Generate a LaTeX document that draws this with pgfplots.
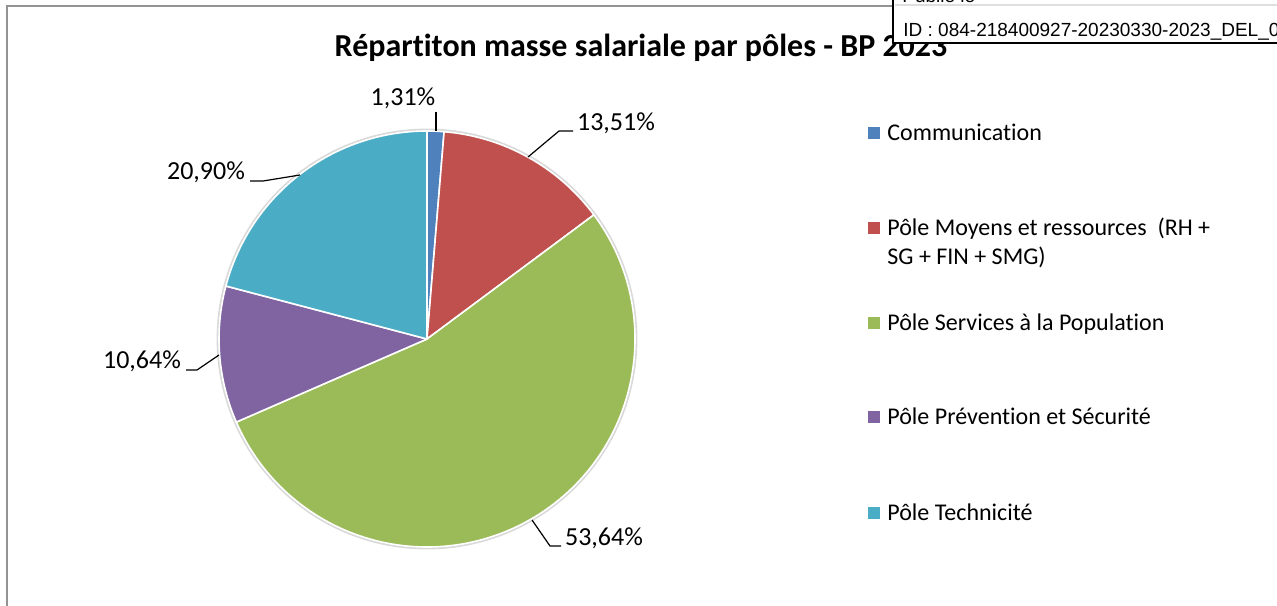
\documentclass[border=0pt]{standalone}
\usepackage{pgfplots}
\pgfplotsset{compat=1.18}
\usepackage{fontspec}
\setmainfont{Carlito}[Ligatures=NoCommon]
\newfontfamily\arial{Liberation Sans}

\definecolor{cA}{HTML}{4F81BD}
\definecolor{cB}{HTML}{C0504D}
\definecolor{cC}{HTML}{9BBB59}
\definecolor{cD}{HTML}{8064A2}
\definecolor{cE}{HTML}{4BACC6}

% share (%) / colour, clockwise from 12 o'clock
\def\piedata{1.31/cA, 13.51/cB, 53.64/cC, 10.64/cD, 20.90/cE}

\begin{document}
\begin{tikzpicture}
% build the sectors once, angles accumulated from the shares
\gdef\slices{}
\xdef\acur{90}
\foreach \p/\col in \piedata {
  \pgfmathsetmacro\anext{\acur - 3.6*\p}
  \xdef\slices{\unexpanded\expandafter{\slices}%
    \noexpand\fill[\col, draw=white, line width=0.8pt, line join=round]
      (axis cs:427,-339) -- ++(\acur:104pt)
      arc[start angle=\acur, end angle=\anext, radius=104pt] -- cycle;}
  \xdef\acur{\anext}
}
\begin{axis}[
    hide axis, scale only axis,
    x=0.5pt, y=0.5pt,
    xmin=0, xmax=1277, ymin=-605, ymax=0,
    clip=false, anchor=north west, at={(0,0)},
]
% chart frame
\draw[gray!85, line width=1.2pt] (axis cs:7,-620) -- (axis cs:7,-6) -- (axis cs:1290,-6);

% title
\node[anchor=base, font=\fontsize{16}{19}\selectfont\bfseries] at (axis cs:641,-56)
  {Répartiton masse salariale par pôles - BP 2023};

% pie
\fill[gray!30] (axis cs:427,-339) circle[radius=105.2pt];
\slices

% data labels with leader lines
\begin{scope}[font=\fontsize{13}{15}\selectfont]
\node[anchor=base] at (axis cs:403,-105) {1,31\%};
\draw[line width=0.6pt] (axis cs:436,-112) -- (axis cs:436,-131);
\node[anchor=base] at (axis cs:616,-130) {13,51\%};
\draw[line width=0.6pt] (axis cs:573,-131) -- (axis cs:559,-131) -- (axis cs:528,-157);
\node[anchor=base] at (axis cs:206,-179) {20,90\%};
\draw[line width=0.6pt] (axis cs:250,-181) -- (axis cs:263,-181) -- (axis cs:300,-175);
\node[anchor=base] at (axis cs:142,-368) {10,64\%};
\draw[line width=0.6pt] (axis cs:186,-370) -- (axis cs:197,-370) -- (axis cs:219,-355);
\node[anchor=base] at (axis cs:604,-545) {53,64\%};
\draw[line width=0.6pt] (axis cs:532,-520) -- (axis cs:550,-546) -- (axis cs:561,-546);
\end{scope}

% legend
\begin{scope}[font=\fontsize{12}{14.5}\selectfont, inner sep=0pt]
\fill[cA] (axis cs:868,-127) rectangle (axis cs:880,-139);
\node[anchor=base west] at (axis cs:887,-140) {Communication};
\fill[cB] (axis cs:868,-222) rectangle (axis cs:880,-234);
\node[anchor=base west] at (axis cs:887,-235) {Pôle Moyens et ressources\ \ (RH +};
\node[anchor=base west] at (axis cs:887,-264) {SG + FIN + SMG)};
\fill[cC] (axis cs:868,-317) rectangle (axis cs:880,-329);
\node[anchor=base west] at (axis cs:887,-330) {Pôle Services à la Population};
\fill[cD] (axis cs:868,-411) rectangle (axis cs:880,-423);
\node[anchor=base west] at (axis cs:887,-424) {Pôle Prévention et Sécurité};
\fill[cE] (axis cs:868,-507) rectangle (axis cs:880,-519);
\node[anchor=base west] at (axis cs:887,-520) {Pôle Technicité};
\end{scope}

% publication stamp over the top right corner
\filldraw[fill=white, draw=black, line width=1.4pt] (axis cs:893,-43) rectangle (axis cs:1300,10);
\draw[gray!25, line width=0.6pt] (axis cs:895,-5) -- (axis cs:1300,-5);
\node[anchor=base west, font=\arial\fontsize{9.5}{11}\selectfont, inner sep=0pt] at (axis cs:902,-2) {Publié le};
\node[anchor=base west, font=\arial\fontsize{9.5}{11}\selectfont, inner sep=0pt] at (axis cs:903,-36)
  {ID : 084-218400927-20230330-2023\_DEL\_03};
\end{axis}
\pgfresetboundingbox
\path[use as bounding box] (0,0) rectangle (638.5pt,-302.5pt);
\end{tikzpicture}
\end{document}
